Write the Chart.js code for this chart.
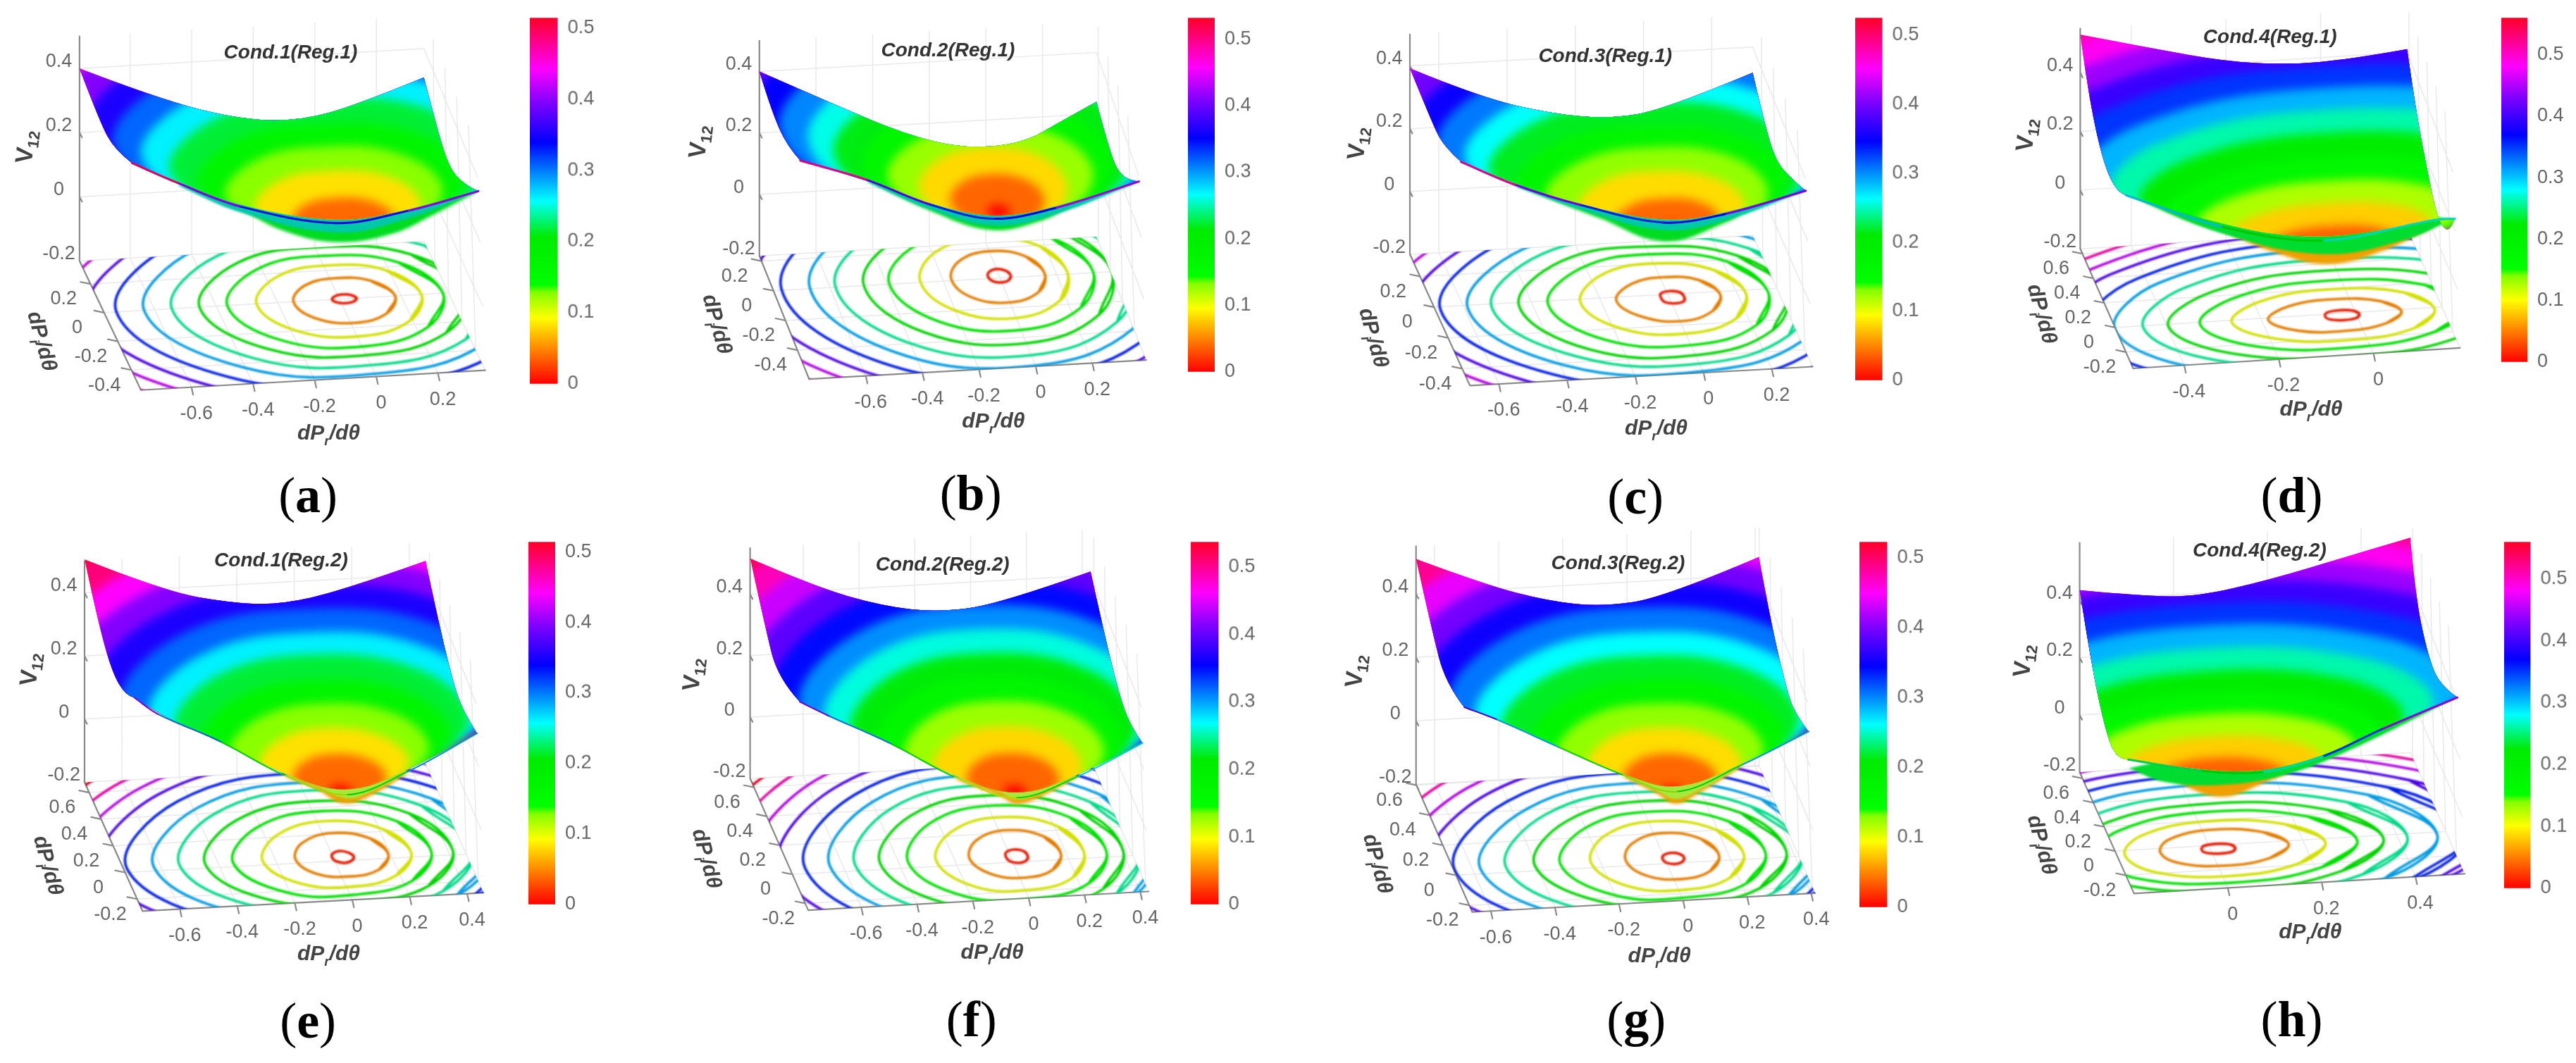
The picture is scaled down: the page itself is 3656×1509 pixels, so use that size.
<!DOCTYPE html>
<html>
<head>
<meta charset="utf-8">
<title>V12 surfaces</title>
<script src="https://cdn.jsdelivr.net/npm/chart.js@4/dist/chart.umd.min.js"></script>
<style>
  html, body { margin: 0; background: #fff; }
  body { position: relative; width: 3656px; height: 1509px; overflow: hidden; }
  canvas { position: absolute; }
  .cap { position: absolute; font: 72px 'Liberation Serif', serif; color: #000; transform: translate(-50%, -50%); }
</style>
</head>
<body>
<script>
// ---------------- Data ----------------
const ringLevels = [.01, .05, .095, .14, .185, .23, .275, .32, .365, .41, .455, .5];
const zTicks = [-.2, 0, .2, .4];

// contour radii from each minimum, one row per level, at 0,45,...,315 degrees in the dPr/dPi plane
const ringsA = [[.04,.035,.03,.033,.04,.035,.03,.033],[.165,.158,.143,.149,.165,.17,.167,.161],[.25,.249,.233,.251,.285,.281,.26,.247],[.32,.319,.3,.33,.38,.366,.33,.315],[.4,.391,.36,.403,.47,.443,.39,.383],[.48,.469,.43,.48,.56,.525,.46,.456],[.55,.54,.5,.558,.65,.6,.52,.519],[.62,.608,.56,.63,.74,.685,.59,.587],[.7,.68,.62,.7,.83,.77,.66,.66],[.78,.75,.68,.776,.92,.85,.73,.732],[.85,.82,.74,.844,1,.927,.8,.8],[.92,.886,.8,.912,1.08,.999,.86,.863]];
const ringsB = [[.04,.046,.05,.044,.04,.041,.04,.039],[.16,.17,.17,.165,.17,.178,.175,.163],[.24,.258,.26,.262,.28,.288,.28,.252],[.33,.33,.31,.34,.39,.386,.36,.335],[.395,.394,.37,.412,.48,.479,.45,.41],[.47,.464,.43,.49,.58,.572,.53,.485],[.54,.536,.5,.567,.67,.654,.6,.553],[.61,.603,.56,.645,.77,.742,.67,.621],[.69,.675,.62,.723,.87,.829,.74,.693],[.77,.747,.68,.796,.96,.912,.81,.766],[.85,.819,.74,.868,1.05,.994,.88,.839],[.93,.891,.8,.94,1.14,1.076,.95,.912]];
const ringsC = [[.034,.04,.04,.04,.034,.04,.04,.04],[.14,.14,.13,.14,.165,.16,.155,.14],[.215,.22,.22,.24,.27,.26,.235,.22],[.28,.29,.28,.31,.365,.35,.31,.29],[.335,.34,.33,.38,.45,.43,.375,.345],[.39,.4,.39,.45,.53,.49,.43,.4],[.44,.46,.45,.51,.6,.56,.48,.45],[.5,.52,.51,.58,.68,.63,.55,.51],[.56,.58,.57,.64,.76,.71,.62,.57],[.62,.64,.63,.71,.84,.79,.69,.63],[.68,.71,.69,.78,.92,.87,.76,.7],[.74,.77,.75,.85,1,.94,.83,.76]];
const ringsD = [[.037,.04,.04,.04,.036,.04,.04,.04],[.126,.13,.13,.14,.156,.145,.125,.12],[.196,.21,.21,.215,.233,.22,.2,.195],[.26,.28,.28,.28,.3,.29,.26,.25],[.33,.355,.36,.35,.367,.36,.33,.32],[.4,.44,.45,.42,.42,.42,.4,.39],[.46,.51,.53,.49,.48,.49,.47,.45],[.52,.58,.6,.55,.54,.56,.54,.51],[.58,.64,.67,.62,.6,.62,.6,.57],[.64,.71,.74,.68,.66,.68,.66,.63],[.7,.78,.81,.74,.72,.74,.72,.69],[.76,.84,.88,.81,.78,.8,.78,.75]];
const ringsE = [[.04,.04,.045,.04,.036,.04,.045,.04],[.16,.175,.18,.165,.163,.16,.146,.15],[.24,.26,.27,.265,.277,.255,.22,.22],[.31,.34,.345,.35,.38,.34,.28,.285],[.385,.415,.42,.435,.477,.42,.335,.35],[.455,.49,.5,.52,.566,.49,.39,.41],[.52,.555,.56,.59,.656,.565,.44,.465],[.59,.63,.63,.67,.75,.64,.49,.52],[.66,.7,.7,.75,.84,.72,.55,.585],[.73,.77,.77,.825,.93,.79,.61,.65],[.8,.845,.84,.9,1.02,.87,.67,.71],[.87,.92,.91,.98,1.11,.95,.73,.77]];
const ringsF = [[.038,.045,.047,.045,.04,.045,.045,.04],[.157,.175,.18,.17,.17,.16,.146,.147],[.24,.265,.27,.27,.29,.27,.23,.23],[.32,.345,.35,.36,.39,.35,.29,.295],[.38,.41,.42,.44,.49,.43,.35,.355],[.44,.48,.49,.52,.58,.51,.41,.41],[.5,.545,.56,.595,.67,.58,.46,.465],[.56,.61,.63,.67,.76,.66,.52,.52],[.62,.68,.7,.75,.85,.74,.58,.58],[.68,.75,.77,.83,.94,.81,.64,.64],[.74,.815,.84,.91,1.03,.89,.7,.7],[.8,.88,.91,.98,1.12,.97,.76,.76]];
const ringsG = [[.036,.036,.034,.032,.032,.037,.04,.037],[.145,.16,.166,.15,.146,.147,.14,.138],[.222,.24,.245,.245,.255,.24,.21,.21],[.29,.31,.31,.32,.35,.315,.26,.27],[.355,.38,.38,.39,.43,.375,.3,.32],[.406,.435,.44,.465,.52,.45,.35,.37],[.46,.495,.5,.53,.6,.515,.4,.42],[.52,.56,.57,.605,.68,.585,.45,.47],[.58,.63,.64,.68,.76,.65,.5,.52],[.64,.695,.71,.75,.84,.715,.55,.58],[.7,.76,.78,.825,.92,.78,.6,.63],[.76,.83,.85,.9,1,.85,.65,.68]];
const ringsH = [[.036,.04,.04,.04,.036,.04,.04,.04],[.15,.155,.155,.135,.124,.135,.14,.14],[.228,.23,.225,.205,.2,.22,.225,.22],[.296,.305,.3,.27,.26,.28,.28,.28],[.352,.37,.365,.33,.31,.335,.34,.335],[.403,.44,.44,.39,.37,.4,.4,.39],[.467,.51,.52,.455,.42,.45,.46,.45],[.53,.58,.6,.52,.47,.51,.52,.51],[.59,.65,.67,.58,.52,.57,.58,.565],[.65,.72,.74,.635,.57,.62,.64,.625],[.71,.78,.81,.7,.62,.68,.7,.68],[.77,.85,.88,.75,.67,.74,.76,.74]];

// surface height along the four domain edges: back,front = [dPr,V], left,right = [dPi,V]
const backA = [[-.764,.4],[-.49,.284],[-.23,.21],[-.04,.198],[.14,.238],[.354,.31]];
const rightA = [[.36,.31],[.16,.25],[-.04,.208],[-.3,.27],[-.54,.358]];
const frontA = [[.354,.358],[.12,.309],[-.11,.284],[-.42,.353],[-.62,.438],[-.764,.507]];
const leftA = [[-.54,.507],[-.23,.41],[.02,.384],[.36,.4]];
const backB = [[-.8,.4],[-.536,.279],[-.286,.169],[-.08,.112],[.126,.116],[.27,.184],[.39,.239]];
const rightB = [[.235,.239],[.006,.2],[-.165,.204],[-.4,.29],[-.595,.381]];
const frontB = [[.39,.381],[.09,.31],[-.13,.287],[-.35,.345],[-.57,.437],[-.8,.511]];
const leftB = [[-.595,.511],[-.3,.418],[0,.387],[.235,.4]];
const backC = [[-.685,.392],[-.48,.288],[-.27,.223],[-.1,.196],[.065,.217],[.32,.318]];
const rightC = [[.344,.318],[.164,.248],[-.02,.212],[-.3,.29],[-.51,.36]];
const frontC = [[.32,.36],[.08,.3],[-.1,.284],[-.34,.354],[-.53,.43],[-.685,.512]];
const leftC = [[-.51,.512],[-.2,.41],[.01,.395],[.344,.392]];
const backD = [[-.508,.53],[-.365,.471],[-.2,.407],[-.07,.383],[.06,.387],[.183,.41]];
const rightD = [[.64,.41],[.48,.29],[.26,.173],[.04,.08],[-.2,.13],[-.333,.24]];
const frontD = [[.183,.24],[.14,.24],[-.098,.194],[-.31,.263],[-.508,.39]];
const leftD = [[-.333,.39],[-.13,.313],[.17,.292],[.47,.4],[.64,.53]];
const backE = [[-.73,.506],[-.45,.391],[-.22,.343],[-.05,.329],[.17,.364],[.457,.443]];
const rightE = [[.677,.443],[.47,.366],[.19,.279],[-.01,.257],[-.29,.305]];
const frontE = [[.457,.305],[.21,.196],[-.005,.133],[-.22,.206],[-.435,.322],[-.65,.42],[-.73,.476]];
const leftE = [[-.29,.476],[-.116,.408],[.159,.368],[.435,.424],[.677,.506]];
const backF = [[-.79,.517],[-.56,.414],[-.32,.339],[-.115,.307],[.105,.324],[.43,.413]];
const rightF = [[.66,.413],[.433,.329],[.18,.249],[-.02,.232],[-.247,.283]];
const frontF = [[.43,.283],[.195,.187],[-.03,.128],[-.25,.208],[-.47,.326],[-.69,.428],[-.79,.478]];
const leftF = [[-.247,.478],[.17,.359],[.39,.422],[.66,.517]];
const backG = [[-.658,.51],[-.44,.416],[-.245,.354],[-.078,.327],[.116,.345],[.412,.456]];
const rightG = [[.605,.456],[.4,.348],[.135,.258],[-.01,.252],[-.245,.309]];
const frontG = [[.412,.309],[.2,.216],[-.006,.143],[-.175,.206],[-.37,.304],[-.56,.402],[-.658,.445]];
const leftG = [[-.245,.445],[.095,.359],[.325,.417],[.605,.51]];
const backH = [[-.2,.435],[-.07,.402],[.05,.388],[.205,.432],[.376,.499],[.505,.55]];
const rightH = [[.65,.55],[.54,.388],[.29,.292],[.04,.292],[-.35,.415]];
const frontH = [[.505,.415],[.34,.319],[.213,.237],[.084,.196],[-.045,.213],[-.2,.267]];
const leftH = [[-.35,.267],[-.06,.143],[.19,.18],[.44,.3],[.65,.435]];

// part of the bowl seen below the front lip: [dPr,V] in the front plane
const underA = [[-.62,.438],[-.42,.343],[-.28,.269],[-.11,.225],[.067,.24],[.2,.29],[.354,.358]];
const stripA = [[-.62,.43],[-.42,.335],[-.11,.255],[.12,.285],[.354,.358]];
const underB = [[-.57,.437],[-.346,.323],[-.14,.251],[.034,.27],[.165,.318],[.39,.381]];
const stripB = [[-.57,.43],[-.35,.33],[-.13,.265],[.09,.29],[.39,.381]];
const underC = [[-.53,.43],[-.285,.308],[-.1,.224],[.08,.272],[.176,.32],[.32,.36]];
const stripC = [[-.53,.425],[-.34,.34],[-.1,.26],[.08,.28],[.32,.36]];
const underD = [[-.31,.25],[-.2,.164],[-.09,.113],[.03,.147],[.14,.22]];
const stripD = [[-.508,.39],[-.31,.24],[-.098,.148],[.073,.178],[.183,.24]];
const underE = [[-.22,.2],[-.11,.156],[-.02,.107],[.07,.123],[.21,.19]];
const stripE = [[-.22,.205],[-.11,.165],[-.01,.122],[.07,.135],[.21,.195]];
const underF = [[-.25,.2],[-.09,.137],[-.03,.108],[.06,.128],[.195,.185]];
const stripF = [[-.25,.205],[-.09,.15],[-.03,.122],[.06,.138],[.195,.186]];
const underG = [[-.175,.2],[-.07,.141],[-.012,.105],[.06,.133],[.2,.21]];
const stripG = [[-.175,.204],[-.07,.15],[-.01,.12],[.06,.142],[.2,.212]];
const underH = [[-.123,.2],[-.01,.119],[.09,.16],[.2,.23]];
const stripH = [[-.2,.237],[-.123,.181],[0,.16],[.127,.18],[.256,.244],[.505,.415]];

const colorStops = [0, .09, .18, .25, .27, .4, .5, .66, .77, .86, 1];
const colorValues = [[255,0,0],[255,128,0],[255,255,0],[130,255,0],[0,255,0],[0,235,0],[0,255,255],[0,0,255],[130,0,255],[255,0,255],[255,0,40]];

// ---------------- Panels ----------------
// All geometry numbers are in a 0..1568 square stretched over the panel's box.
const UNIT = 1568, PANEL_H = 760, TILT = 30;
const panels = [
  { tag:'a', title:'Cond.1(Reg.1)', box:[0,0,920], rings:ringsA, back:backA, right:rightA, front:frontA, left:leftA, under:underA, strip:stripA, underColor:'#00dc20', stripColor:'#00c8a8', lipShift:.05,
    xTicks:[-.6,-.4,-.2,0,.2], yTicks:[-.4,-.2,0,.2], max:.514, o:[821,876], ux:[745,-52], uy:[-165,-420], zs:940, c:[.016,0], zTop:.5,
    bar:[1282,1350,35,1140], titleAt:[703,155], vAt:[65,430], yAt:[100,1000], xAt:[795,1270], capAt:[745,1450] },
  { tag:'b', title:'Cond.2(Reg.1)', box:[920,0,920], rings:ringsB, back:backB, right:rightB, front:frontB, left:leftB, under:underB, strip:stripB, underColor:'#00dc20', stripColor:'#00c8a8', lipShift:.05,
    xTicks:[-.6,-.4,-.2,0,.2], yTicks:[-.4,-.2,0,.2], max:.532, o:[851,814], ux:[685,-47], uy:[-145,-435], zs:900, c:[0,.01], zTop:.5,
    bar:[1305,1370,35,1105], titleAt:[725,150], vAt:[125,415], yAt:[165,950], xAt:[835,1235], capAt:[780,1445] },
  { tag:'c', title:'Cond.3(Reg.1)', box:[1840,0,920], rings:ringsC, back:backC, right:rightC, front:frontC, left:leftC, under:underC, strip:stripC, underColor:'#00dc20', stripColor:'#00c8a8', lipShift:.05,
    xTicks:[-.6,-.4,-.2,0,.2], yTicks:[-.4,-.2,0,.2], max:.525, o:[898,862], ux:[825,-55], uy:[-170,-450], zs:920, c:[.01,-.02], zTop:.5,
    bar:[1352,1418,35,1130], titleAt:[747,165], vAt:[150,420], yAt:[185,990], xAt:[870,1255], capAt:[820,1455] },
  { tag:'d', title:'Cond.4(Reg.1)', box:[2760,0,896], rings:ringsD, back:backD, right:rightD, front:frontD, left:leftD, under:underD, strip:stripD, underColor:'#f0a000', stripColor:'#00dc30', lipShift:.03,
    xTicks:[-.4,-.2,0], yTicks:[-.2,0,.2,.4,.6], max:.56, o:[1020,915], ux:[1175,-87], uy:[-135,-360], zs:860, c:[-.03,-.015], zTop:.55,
    bar:[1382,1448,35,1078], titleAt:[808,110], vAt:[205,395], yAt:[240,920], xAt:[910,1200], capAt:[862,1450] },
  { tag:'e', title:'Cond.1(Reg.2)', box:[0,749,920], rings:ringsE, back:backE, right:rightE, front:frontE, left:leftE, under:underE, strip:stripE, underColor:'#f0a000', stripColor:'#a8e83c', lipShift:-.02,
    xTicks:[-.6,-.4,-.2,0,.2,.4], yTicks:[-.2,0,.2,.4,.6], max:.514, o:[810,977], ux:[695,-45], uy:[-145,-390], zs:925, c:[.032,.028], zTop:.5,
    bar:[1278,1343,25,1120], titleAt:[680,98], vAt:[75,415], yAt:[115,990], xAt:[795,1250], capAt:[745,1445] },
  { tag:'f', title:'Cond.2(Reg.2)', box:[920,749,920], rings:ringsF, back:backF, right:rightF, front:frontF, left:leftF, under:underF, strip:stripF, underColor:'#f0a000', stripColor:'#a8e83c', lipShift:-.02,
    xTicks:[-.6,-.4,-.2,0,.2,.4], yTicks:[-.2,0,.2,.4,.6], max:.537, o:[882,980], ux:[675,-45], uy:[-155,-425], zs:900, c:[.024,.038], zTop:.55,
    bar:[1313,1380,25,1120], titleAt:[712,110], vAt:[110,430], yAt:[140,970], xAt:[832,1245], capAt:[782,1440] },
  { tag:'g', title:'Cond.3(Reg.2)', box:[1840,749,920], rings:ringsG, back:backG, right:rightG, front:frontG, left:leftG, under:underG, strip:stripG, underColor:'#f0a000', stripColor:'#a8e83c', lipShift:-.02,
    xTicks:[-.6,-.4,-.2,0,.2,.4], yTicks:[-.2,0,.2,.4,.6], max:.523, o:[896,984], ux:[775,-52], uy:[-160,-440], zs:930, c:[.025,.034], zTop:.55,
    bar:[1362,1430,25,1128], titleAt:[778,105], vAt:[145,420], yAt:[195,985], xAt:[878,1255], capAt:[822,1440] },
  { tag:'h', title:'Cond.4(Reg.2)', box:[2760,749,896], rings:ringsH, back:backH, right:rightH, front:frontH, left:leftH, under:underH, strip:stripH, underColor:'#f0a000', stripColor:'#00dc30', lipShift:.03,
    xTicks:[0,.2,.4], yTicks:[-.2,0,.2,.4,.6], max:.56, o:[656,931], ux:[1165,-82], uy:[-135,-355], zs:840, c:[.017,-.03], zTop:.6,
    bar:[1390,1456,25,1072], titleAt:[782,68], vAt:[198,390], yAt:[240,930], xAt:[908,1185], capAt:[862,1440] }
];

// ---------------- Helpers ----------------
function colorAt(v, max) {
  const f = Math.max(0, Math.min(1, v / max));
  let i = 0;
  while (i < colorStops.length - 2 && f > colorStops[i + 1]) i++;
  const t = (f - colorStops[i]) / (colorStops[i + 1] - colorStops[i]);
  return colorValues[i].map((c, k) => c + (colorValues[i + 1][k] - c) * t);
}
function css(rgb, k = 1) {
  return `rgb(${rgb.map(c => Math.round(c * k)).join(',')})`;
}

// 3D -> the panel's plane
function project(p, x, y, v) {
  const yMax = p.left[p.left.length - 1][0], yMin = p.left[0][0];
  const lean = TILT * (v + .2) * (yMax - y) / (yMax - yMin);
  return {
    x: p.o[0] + p.ux[0] * x + p.uy[0] * y - lean,
    y: p.o[1] + p.ux[1] * x + p.uy[1] * y - p.zs * (v + .2)
  };
}

function silhouette(p) {
  const yMax = p.left[p.left.length - 1][0], yMin = p.left[0][0];
  const xMin = p.back[0][0], xMax = p.back[p.back.length - 1][0];
  return [
    p.back.map(([x, v]) => project(p, x, yMax, v)),
    p.right.map(([y, v]) => project(p, xMax, y, v)),
    p.front.map(([x, v]) => project(p, x, yMin, v)),
    p.left.map(([y, v]) => project(p, xMin, y, v))
  ];
}

function floorOutline(p) {
  const yMax = p.left[p.left.length - 1][0], yMin = p.left[0][0];
  const xMin = p.back[0][0], xMax = p.back[p.back.length - 1][0];
  const a = project(p, xMin, yMax, -.2), b = project(p, xMax, yMax, -.2);
  const c = project(p, xMax, yMin, -.2), d = project(p, xMin, yMin, -.2);
  return [[a, b], [b, c], [c, d], [d, a]];
}

function ringPoints(p, radii, v) {
  const pts = radii.map((r, i) => {
    const a = i * Math.PI / 4;
    return project(p, p.c[0] + r * Math.cos(a), p.c[1] + r * Math.sin(a), v);
  });
  // overlap at the seam so the spline closes smoothly
  return [pts[pts.length - 1], ...pts, pts[0], pts[1]];
}

function tracePath(chart, ctx, edges) {
  const X = chart.scales.x, Y = chart.scales.y;
  const px = q => [X.getPixelForValue(q.x), Y.getPixelForValue(q.y)];
  ctx.beginPath();
  edges.forEach((edge, e) => {
    const pts = edge.map(px);
    if (e === 0) ctx.moveTo(...pts[0]); else ctx.lineTo(...pts[0]);
    for (let i = 1; i < pts.length - 1; i++) {
      const next = pts[i + 1];
      const end = i === pts.length - 2 ? next : [(pts[i][0] + next[0]) / 2, (pts[i][1] + next[1]) / 2];
      ctx.quadraticCurveTo(pts[i][0], pts[i][1], end[0], end[1]);
    }
    if (pts.length === 2) ctx.lineTo(...pts[1]);
  });
  ctx.closePath();
}

function drawRuns(ctx, runs, cx, cy, angle) {
  ctx.save();
  ctx.translate(cx, cy);
  ctx.rotate(angle);
  ctx.textAlign = 'left';
  ctx.textBaseline = 'middle';
  let w = 0;
  runs.forEach(r => { ctx.font = r.font; w += ctx.measureText(r.t).width; });
  let at = -w / 2;
  runs.forEach(r => {
    ctx.font = r.font;
    ctx.fillText(r.t, at, r.dy || 0);
    at += ctx.measureText(r.t).width;
  });
  ctx.restore();
}

// ---------------- Plugin: clip, soft fill and axis text ----------------
const surfacePlugin = {
  id: 'surface3d',
  beforeDatasetDraw(chart, { index, meta }) {
    const ds = chart.data.datasets[index];
    const ctx = chart.ctx;
    ctx.save();
    if (ds.clipEdges) {
      tracePath(chart, ctx, ds.clipEdges);
      ctx.clip();
    }
    if (ds.soft) ctx.filter = `blur(${ds.soft}px)`;
    if (ds.paint) {
      meta.dataset.updateControlPoints(chart.chartArea, 'x');
      ctx.beginPath();
      meta.dataset.path(ctx);
      ctx.closePath();
      ctx.fillStyle = ds.paint;
      ctx.fill();
    }
  },
  afterDatasetDraw(chart) {
    chart.ctx.restore();
  },
  afterDatasetsDraw(chart, args, opts) {
    const p = opts.panel, ctx = chart.ctx;
    const X = v => chart.scales.x.getPixelForValue(v), Y = v => chart.scales.y.getPixelForValue(v);
    const yMax = p.left[p.left.length - 1][0], yMin = p.left[0][0], xMin = p.back[0][0];
    ctx.save();
    ctx.fillStyle = '#666';
    ctx.font = "27px 'Liberation Sans', Arial";
    ctx.textAlign = 'center';
    ctx.textBaseline = 'middle';
    p.xTicks.forEach(t => {
      const q = project(p, t, yMin, -.2);
      ctx.fillText(String(t), X(q.x + 12), Y(q.y + 78));
    });
    p.yTicks.forEach(t => {
      const q = project(p, xMin, t, -.2);
      ctx.fillText(String(t), X(q.x - 65), Y(q.y + 45));
    });
    zTicks.forEach(t => {
      const q = project(p, xMin, yMax, t);
      ctx.fillText(String(t), X(q.x - 50), Y(q.y - 20));
    });
    ctx.fillStyle = '#333';
    ctx.font = "italic bold 28px 'Liberation Sans', Arial";
    ctx.fillText(p.title, X(p.titleAt[0]), Y(p.titleAt[1]));
    ctx.fillStyle = '#444';
    const bold = "bold 34px 'Liberation Sans', Arial", small = "bold 22px 'Liberation Sans', Arial";
    const ital = "italic bold 30px 'Liberation Sans', Arial", sub = "italic bold 19px 'Liberation Sans', Arial";
    drawRuns(ctx, [{ t:'V', font:bold }, { t:'12', font:small, dy:10 }], X(p.vAt[0]), Y(p.vAt[1]), -1.45);
    drawRuns(ctx, [{ t:'dP', font:ital }, { t:'r', font:sub, dy:11 }, { t:'/d\u03b8', font:ital }], X(p.xAt[0]), Y(p.xAt[1]), 0);
    drawRuns(ctx, [{ t:'dP', font:ital }, { t:'i', font:sub, dy:11 }, { t:'/d\u03b8', font:ital }], X(p.yAt[0]), Y(p.yAt[1]), 1.3);
    ctx.restore();
  }
};

// ---------------- Datasets of one panel ----------------
function buildDatasets(p) {
  const yMax = p.left[p.left.length - 1][0], yMin = p.left[0][0];
  const xMin = p.back[0][0], xMax = p.back[p.back.length - 1][0];
  const sets = [];
  const lineSet = (data, extra) => sets.push({ data, pointRadius:0, borderWidth:0, tension:0, fill:false, ...extra });

  // walls and floor grid, one dataset with gaps
  const grid = [];
  const seg = (a, b) => grid.push(a, b, { x:b.x, y:null });
  p.xTicks.forEach(t => {
    seg(project(p, t, yMax, -.2), project(p, t, yMax, p.zTop));
    seg(project(p, t, yMin, -.2), project(p, t, yMax, -.2));
  });
  p.yTicks.forEach(t => {
    seg(project(p, xMax, t, -.2), project(p, xMax, t, p.zTop));
    seg(project(p, xMin, t, -.2), project(p, xMax, t, -.2));
  });
  zTicks.forEach(t => {
    seg(project(p, xMin, yMax, t), project(p, xMax, yMax, t));
    seg(project(p, xMax, yMax, t), project(p, xMax, yMin, t));
  });
  lineSet(grid, { borderColor:'#e9e9e9', borderWidth:1.5, soft:.6 });

  // axis lines with tick marks
  const axes = [];
  const axSeg = (a, b) => axes.push(a, b, { x:b.x, y:null });
  axSeg(project(p, xMin, yMax, -.2), project(p, xMin, yMax, p.zTop));
  axSeg(project(p, xMin, yMax, -.2), project(p, xMin, yMin, -.2));
  axSeg(project(p, xMin, yMin, -.2), project(p, xMax, yMin, -.2));
  p.xTicks.forEach(t => { const q = project(p, t, yMin, -.2); axSeg(q, { x:q.x + 4, y:q.y + 22 }); });
  p.yTicks.forEach(t => { const q = project(p, xMin, t, -.2); axSeg(q, { x:q.x - 24, y:q.y - 6 }); });
  zTicks.forEach(t => { const q = project(p, xMin, yMax, t); axSeg(q, { x:q.x + 6, y:q.y + 14 }); });
  lineSet(axes, { borderColor:'#8a8a8a', borderWidth:2.2, soft:.5 });

  // contours on the floor
  const floor = floorOutline(p);
  p.rings.forEach((radii, i) => {
    lineSet(ringPoints(p, radii, -.2), {
      tension:.4, borderColor:css(colorAt(ringLevels[i], .5), .88), borderWidth:3.6, clipEdges:floor, soft:.9
    });
  });

  // below the lip
  const plane = arr => arr.map(([x, v]) => project(p, x, yMin, v));
  lineSet(plane(p.under), { paint:p.underColor, soft:2, tension:.4 });
  lineSet(plane(p.strip), { paint:p.stripColor, soft:1.5, tension:.4 });

  // the surface: nested level regions, highest first, clipped to the edges
  const edges = silhouette(p);
  const outline = [...edges[0], ...edges[1], ...edges[2], ...edges[3]];
  lineSet(outline, { paint:css(colorAt(.52, p.max)), clipEdges:edges });
  for (let i = p.rings.length - 1; i >= 0; i--) {
    const mid = i === 0 ? 0 : ringLevels[i - 1] + .7 * (ringLevels[i] - ringLevels[i - 1]);
    lineSet(ringPoints(p, p.rings[i], ringLevels[i]), { tension:.4, paint:css(colorAt(mid, p.max)), clipEdges:edges, soft:7 });
  }

  // lip, coloured by height
  const lip = p.front;
  lineSet(edges[2], {
    tension:.35, borderWidth:p.lipShift < 0 ? 2 : 3, borderColor:'#0040c0', soft:.6,
    segment:{ borderColor: c => css(colorAt(lip[c.p0DataIndex][1] + p.lipShift, p.max), .85) }
  });

  // first dataset has to paint first
  sets.forEach((s, i) => { s.order = -i; });
  return sets;
}

function addCanvas(left, top, width, height) {
  const c = document.createElement('canvas');
  c.width = width;
  c.height = height;
  c.style.left = left + 'px';
  c.style.top = top + 'px';
  c.style.width = width + 'px';
  c.style.height = height + 'px';
  document.body.appendChild(c);
  return c;
}

// ---------------- Charts ----------------
panels.forEach(p => {
  const [bx, by, bw] = p.box;
  const sx = UNIT / bw, sy = UNIT / PANEL_H;

  new Chart(addCanvas(bx, by, bw, PANEL_H), {
    type: 'line',
    data: { datasets: buildDatasets(p) },
    plugins: [surfacePlugin],
    options: {
      responsive: false,
      animation: false,
      devicePixelRatio: 1,
      layout: { padding: 0 },
      elements: { line: { capBezierPoints: false, borderCapStyle: 'round', borderJoinStyle: 'round' } },
      plugins: { legend: { display: false }, tooltip: { enabled: false }, surface3d: { panel: p } },
      events: [],
      scales: {
        x: { type: 'linear', display: false, min: 0, max: UNIT },
        y: { type: 'linear', display: false, min: 0, max: UNIT, reverse: true }
      }
    }
  });

  // colour bar
  const [x1, x2, y1, y2] = p.bar;
  const pad = 14, labelW = 62;
  new Chart(addCanvas(bx + x1 / sx, by + y1 / sy - pad, (x2 - x1) / sx + labelW, (y2 - y1) / sy + pad * 2), {
    type: 'bar',
    data: {
      labels: [''],
      datasets: [{
        data: [p.max],
        barPercentage: 1,
        categoryPercentage: 1,
        backgroundColor: ctx => {
          const a = ctx.chart.chartArea;
          if (!a) return '#f00';
          const g = ctx.chart.ctx.createLinearGradient(0, a.bottom, 0, a.top);
          colorStops.forEach((s, i) => g.addColorStop(s, css(colorValues[i])));
          return g;
        }
      }]
    },
    options: {
      responsive: false,
      animation: false,
      devicePixelRatio: 1,
      events: [],
      layout: { padding: { top: pad, bottom: pad } },
      plugins: { legend: { display: false }, tooltip: { enabled: false } },
      scales: {
        x: { display: false },
        y: {
          position: 'right', min: 0, max: p.max,
          grid: { display: false }, border: { display: false },
          afterFit(s) { s.width = labelW; },
          ticks: {
            stepSize: .1, includeBounds: false, padding: 6, color: '#666',
            font: { family: "'Liberation Sans', Arial", size: 27 },
            callback: v => String(+v.toFixed(1))
          }
        }
      }
    }
  });

  // (a) ... (h)
  const cap = document.createElement('div');
  cap.className = 'cap';
  cap.innerHTML = `(<b>${p.tag}</b>)`;
  cap.style.left = (bx + p.capAt[0] / sx) + 'px';
  cap.style.top = (by + p.capAt[1] / sy) + 'px';
  document.body.appendChild(cap);
});
</script>
</body>
</html>
